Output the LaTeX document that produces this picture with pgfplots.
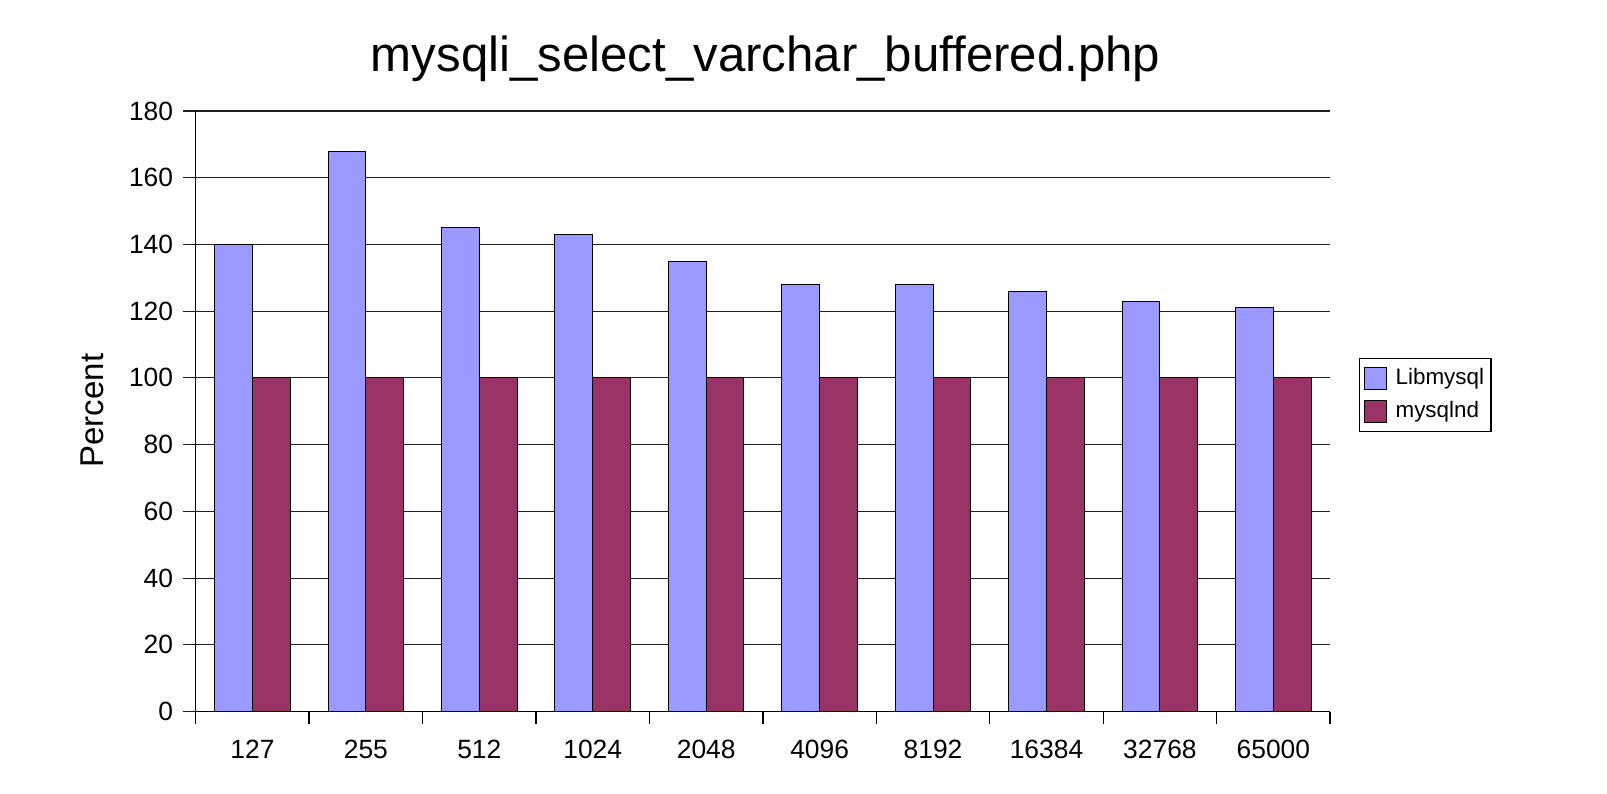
\documentclass[border=0pt]{standalone}
\usepackage{pgfplots}
\pgfplotsset{compat=1.18}
\usepackage{fontspec}
\setmainfont{Liberation Sans}
\definecolor{libc}{HTML}{9999FF}
\definecolor{ndc}{HTML}{993366}
\definecolor{gridc}{HTML}{202020}
\begin{document}
\begin{tikzpicture}
\path[use as bounding box] (0,0) rectangle (803.5pt,396.5pt);
\begin{axis}[
  at={(97.85pt,40.75pt)}, anchor=south west,
  scale only axis, width=567.2pt, height=300.25pt,
  xmin=-0.5, xmax=9.5, ymin=0, ymax=180,
  ybar=0pt, bar width=18.9pt,
  axis lines*=left,
  axis line style={black, line width=0.75pt},
  ytick={0,20,...,180},
  ymajorgrids, grid style={gridc, line width=0.55pt},
  xtick={0,...,9},
  xticklabels={127,255,512,1024,2048,4096,8192,16384,32768,65000},
  minor xtick={-0.5,0.5,...,9.5},
  tick align=outside,
  major tick length=6.3pt, minor tick length=6.2pt,
  major x tick style={draw=none},
  minor x tick style={black, line width=0.7pt},
  major y tick style={gridc, line width=0.55pt},
  ticklabel style={font=\fontsize{13.2}{15}\selectfont},
  /pgf/number format/assume math mode=true,
  xticklabel style={inner sep=0pt, anchor=north, yshift=-7.7pt},
  yticklabel style={inner sep=0pt, anchor=east, xshift=-4.8pt},
  legend style={at={(rel axis cs:1.0255,0.5887)}, anchor=north west,
    draw=black, line width=0.6pt, inner xsep=2pt, inner ysep=3.3pt,
    row sep=3.2pt,
    font=\fontsize{11.2}{13}\selectfont,
    nodes={inner sep=1.5pt, text height=8pt, text depth=2.3pt}},
  legend cell align=left,
  legend image code/.code={\draw[#1, line width=0.5pt] (0pt,-5.5pt) rectangle (11pt,5.5pt); \path (14pt,0pt);},
]
\addplot[fill=libc, draw=black, line width=0.5pt] coordinates {
  (0,140) (1,168) (2,145) (3,143) (4,135) (5,128) (6,128) (7,126) (8,123) (9,121)};
\addplot[fill=ndc, draw=black, line width=0.5pt] coordinates {
  (0,100) (1,100) (2,100) (3,100) (4,100) (5,100) (6,100) (7,100) (8,100) (9,100)};
\legend{Libmysql, mysqlnd}
\end{axis}
\node[anchor=base, inner sep=0pt, font=\fontsize{24.6}{28}\selectfont] at (382.8pt,360.5pt) {mysqli\_select\_varchar\_buffered.php};
\node[anchor=base, rotate=90, inner sep=0pt, font=\fontsize{16.5}{20}\selectfont] at (51.5pt,191.25pt) {Percent};
\end{tikzpicture}
\end{document}
